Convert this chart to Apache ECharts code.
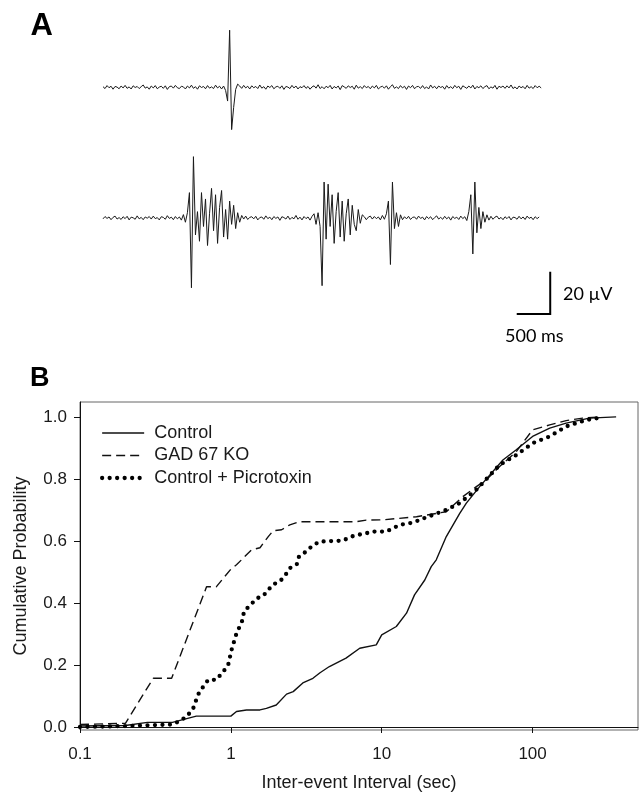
<!DOCTYPE html>
<html><head><meta charset="utf-8">
<script src="https://cdn.jsdelivr.net/npm/echarts@6/dist/echarts.min.js"></script>
<style>html,body{margin:0;padding:0;background:#fff}#c{width:639px;height:794px}</style>
</head><body><div id="c"></div>
<script>
// ---------- Panel A: extracellular traces (µV), one sample every SAMPLE_MS ----------
const SAMPLE_MS = 30;
const traceTop = [
 0.3,-0.6,0.8,-0.2,0.5,-0.9,0.4,0.1,-0.7,0.6,
 -0.3,0.9,-0.5,0.2,-0.8,0.7,-0.1,0.4,-0.6,0.3,
 1.1,-0.4,0.2,-0.9,0.6,-0.3,0.8,-0.7,0.1,0.5,
 -0.5,0.7,-1.0,0.3,0.6,-0.4,0.9,-0.2,-0.6,0.5,
 0.2,-0.8,0.6,-0.3,1.0,-0.5,0.3,-0.9,0.7,-0.1,
 0.4,-0.7,0.8,-0.4,0.2,-0.6,1.0,-0.3,0.5,-0.8,
 0.6,-1.5,-6.5,27,-20,-9.5,-1.0,1.5,0.6,-0.5,
 0.9,-0.3,0.5,-0.8,0.7,-0.2,0.4,-0.6,1.1,-0.4,
 0.3,-0.9,0.6,-0.1,0.8,-0.7,0.2,0.5,-0.5,0.7,
 -1.0,0.4,0.1,-0.6,0.9,-0.3,0.6,-0.8,0.3,-0.2,
 0.8,-0.5,0.4,-0.9,0.2,0.7,-0.4,1.2,-0.6,0.3,
 -0.7,0.5,-0.2,0.9,-0.8,0.4,-0.3,0.6,-1.1,0.8,
 0.2,-0.5,0.7,-0.1,0.5,-0.9,1.0,-0.4,0.3,-0.6,
 0.8,-0.2,0.4,-0.7,0.6,-0.3,0.9,-0.8,0.1,0.5,
 -0.4,0.7,-0.9,0.3,1.2,-0.5,0.2,-0.6,0.8,-0.3,
 0.5,-1.0,0.6,-0.2,0.9,-0.7,0.3,0.4,-0.5,0.8,
 -0.6,0.2,-0.8,1.1,-0.3,0.5,-0.7,0.6,-0.1,0.4,
 -0.9,0.8,-0.4,0.3,-0.6,0.9,-0.2,0.5,-1.0,0.7,
 0.1,-0.5,0.6,-0.3,1.0,-0.8,0.4,-0.2,0.7,-0.6,
 0.3,0.8,-0.7,0.2,-0.4,0.9,-0.9,0.5,-0.1,0.6,
 -0.5,0.7,-0.3,1.1,-0.6,0.2,-0.8,0.6,-0.2,0.4,
 -0.7,0.9,-0.4,0.3,-0.6,0.8,-0.2,0.5,-0.3
];
const traceBottom = [
 -0.4,0.7,-0.2,0.5,-0.8,0.3,0.9,-0.5,0.2,-0.7,
 0.6,-0.3,0.8,-0.9,0.4,0.1,-0.6,1.0,-0.4,0.3,
 -0.8,0.5,-0.1,0.7,-0.5,0.9,-0.3,0.2,-0.9,0.6,
 0.3,-0.6,1.1,-0.2,0.4,-0.8,0.7,-0.4,0.5,-1.0,
 1.6,-2.0,2.5,12,-33,29,-8,3,-11,12,
 -4,9,-13,2,14,-6,11,-12,5,13,
 -9,4,-10,8,-3,6,-5,2.5,-2,1.2,
 -0.5,0.9,-0.7,0.3,0.6,-0.4,0.8,-0.9,0.2,0.5,
 -0.6,1.0,-0.3,0.4,-0.8,0.7,-0.2,0.5,-1.1,0.6,
 0.2,-0.5,0.9,-0.7,0.3,-0.4,1.2,-0.6,0.4,-0.9,
 0.7,-0.3,0.5,-1.0,0.8,2,-3,2.5,-4,-32,
 17,-10,16,-4,11,-12,3,12,-9,8,
 -11,2,9,-8,6,-3,-6,4,-2.5,1.5,
 0.6,-0.8,0.4,0.9,-0.5,0.7,-0.3,0.5,-0.9,1.2,
 -0.6,2,8,-22,17,-5,2.5,-4,1.5,-0.8,
 0.6,-0.4,0.8,-0.7,0.3,0.5,-0.6,0.9,-0.2,0.4,
 -0.9,0.7,-0.3,0.6,-0.8,0.2,1.0,-0.5,0.3,-0.6,
 0.8,-0.4,0.5,-1.0,0.7,-0.2,0.4,-0.7,0.9,-0.3,
 0.6,-1.2,3,11,-17,17,-7,5,-5,3,
 -2,1.5,-1,0.8,-0.6,0.4,0.9,-0.5,0.3,-0.8,
 0.6,-0.3,0.7,-0.9,0.4,0.2,-0.6,0.8,-0.4,0.5,
 -0.7,0.9,-0.2,0.4,-0.8,0.6,-0.3,0.5
];
const scaleBarMs = 500;
const scaleBarUv = 20;
const scaleBarLabels = ['20 \u00b5V', '500 ms'];

// ---------- Panel B: cumulative probability of inter-event interval ----------
const seriesNames = ['Control', 'GAD 67 KO', 'Control + Picrotoxin'];
const controlX = [0.1,0.2,0.28,0.41,0.59,1.0,1.09,1.27,1.56,1.72,2.0,2.34,2.59,3.0,3.5,3.9,4.5,5.8,7.15,9.2,10.0,12.5,14.6,16.5,19.3,21.3,23.0,26.8,32.9,36.4,44.6,63.6,78,100,130,167,238,358];
const controlP = [0.003,0.005,0.015,0.015,0.035,0.035,0.05,0.055,0.055,0.06,0.071,0.106,0.114,0.142,0.157,0.175,0.195,0.222,0.254,0.265,0.297,0.324,0.367,0.426,0.474,0.517,0.539,0.614,0.689,0.722,0.775,0.861,0.894,0.937,0.964,0.98,0.996,1.0];
const gadX = [0.1,0.2,0.306,0.405,0.69,0.80,1.0,1.09,1.37,1.56,1.77,1.91,2.17,2.46,2.86,6.8,7.9,10.2,17,26.8,34.5,42.4,49.4,60.5,78,100,130,167,215,278];
const gadP = [0.008,0.012,0.157,0.157,0.452,0.452,0.509,0.523,0.571,0.578,0.614,0.633,0.636,0.652,0.662,0.662,0.667,0.668,0.678,0.694,0.743,0.775,0.797,0.84,0.888,0.958,0.974,0.988,0.996,1.0];
const picX = [0.1,0.2,0.41,0.448,0.509,0.563,0.607,0.66,0.708,0.80,0.89,0.96,1.01,1.09,1.15,1.2,1.22,1.35,1.49,1.64,1.77,1.91,2.11,2.28,2.46,2.75,2.83,3.14,3.48,3.89,5.54,6.14,6.8,7.72,8.55,10.7,11.9,13.2,16.1,18.8,26.8,32.9,42.4,60.5,78,100,130,167,227,285];
const picP = [0.0,0.003,0.008,0.017,0.033,0.06,0.105,0.132,0.152,0.152,0.178,0.2,0.248,0.302,0.326,0.347,0.372,0.394,0.415,0.423,0.442,0.46,0.469,0.487,0.512,0.526,0.55,0.565,0.585,0.598,0.601,0.612,0.619,0.623,0.63,0.63,0.641,0.652,0.659,0.672,0.7,0.722,0.765,0.845,0.877,0.915,0.937,0.969,0.99,0.998];
const yTicks = [0, 0.2, 0.4, 0.6, 0.8, 1.0];
const xAxisTitle = 'Inter-event Interval (sec)';
const yAxisTitle = 'Cumulative Probability';
const panelLabels = ['A', 'B'];

// ---------- layout (pixels / axis ranges) ----------
const PX_PER_MS = 0.067, PX_PER_UV = 2.115;
const A_T_MAX = 6800, A_V_MIN = -50, A_V_MAX = 40;
const A_W = A_T_MAX * PX_PER_MS, A_H = (A_V_MAX - A_V_MIN) * PX_PER_UV;
const A_BASE_TOP = 87.3, A_BASE_BOTTOM = 218;
const SCALE_T_END = 6675, SCALE_V_LOW = -45.4;

const toPairs = (arr) => arr.map((v, i) => [i * SAMPLE_MS, v]);
const zip = (xs, ys) => xs.map((x, i) => [x, ys[i]]);
const FONT = 'Liberation Sans, Arial, sans-serif';
const INK = '#111';
const CLEAR = 'rgba(0,0,0,0)';

const chart = echarts.init(document.getElementById('c'), null, {renderer: 'canvas'});
const hiddenX = (g) => ({type: 'value', gridIndex: g, min: 0, max: A_T_MAX, show: false});
const hiddenY = (g) => ({type: 'value', gridIndex: g, min: A_V_MIN, max: A_V_MAX, show: false});

chart.setOption({
  animation: false,
  backgroundColor: '#fff',
  grid: [
    {left: 103, top: A_BASE_TOP - A_V_MAX * PX_PER_UV, width: A_W, height: A_H, outerBoundsMode: 'none'},
    {left: 103, top: A_BASE_BOTTOM - A_V_MAX * PX_PER_UV, width: A_W, height: A_H, outerBoundsMode: 'none'},
    {left: 80, top: 402, right: 1, bottom: 64, show: true, borderColor: '#666', borderWidth: 1, backgroundColor: 'transparent', outerBoundsMode: 'none'}
  ],
  xAxis: [
    hiddenX(0), hiddenX(1),
    {
      type: 'log', logBase: 10, gridIndex: 2, min: 0.1, max: 500,
      axisLine: {show: true, lineStyle: {color: INK, width: 1}},
      axisTick: {show: true, inside: false, length: 6, lineStyle: {color: INK, width: 1}},
      minorTick: {show: false},
      splitLine: {show: false},
      axisLabel: {fontSize: 17, fontFamily: FONT, color: '#1a1a1a', margin: 16, showMaxLabel: false,
        formatter: (v) => (v < 1 ? v.toFixed(1) : String(Math.round(v)))},
      name: xAxisTitle, nameLocation: 'middle', nameGap: 44,
      nameTextStyle: {fontSize: 18, fontFamily: FONT, color: '#1a1a1a'}
    }
  ],
  yAxis: [
    hiddenY(0), hiddenY(1),
    {
      type: 'value', gridIndex: 2, min: -0.0097, max: 1.048,
      axisLine: {show: true, lineStyle: {color: INK, width: 1}},
      axisTick: {show: true, inside: false, length: 6, customValues: yTicks, lineStyle: {color: INK, width: 1}},
      splitLine: {show: false},
      axisLabel: {fontSize: 17, fontFamily: FONT, color: '#1a1a1a', margin: 13, customValues: yTicks,
        formatter: (v) => v.toFixed(1)},
      name: yAxisTitle, nameLocation: 'middle', nameGap: 50, nameRotate: 90,
      nameTextStyle: {fontSize: 18, fontFamily: FONT, color: '#1a1a1a'}
    }
  ],
  legend: {
    orient: 'vertical', left: 100, top: 424, padding: 0, itemWidth: 42, itemHeight: 14, itemGap: 4.5,
    selectedMode: false, data: seriesNames,
    itemStyle: {color: CLEAR, borderWidth: 0, opacity: 0},
    lineStyle: {width: 'inherit'},
    textStyle: {fontSize: 18, fontFamily: FONT, color: '#1a1a1a', padding: [0, 0, 0, 5]}
  },
  series: [
    {type: 'line', xAxisIndex: 0, yAxisIndex: 0, data: toPairs(traceTop), showSymbol: false, symbol: 'none',
      lineStyle: {color: '#1a1a1a', width: 1}, silent: true, clip: false},
    {type: 'line', xAxisIndex: 1, yAxisIndex: 1, data: toPairs(traceBottom), showSymbol: false, symbol: 'none',
      lineStyle: {color: '#1a1a1a', width: 1}, silent: true, clip: false},
    {type: 'line', xAxisIndex: 1, yAxisIndex: 1, symbol: 'none', silent: true, clip: false,
      data: [[SCALE_T_END, SCALE_V_LOW + scaleBarUv], [SCALE_T_END, SCALE_V_LOW], [SCALE_T_END - scaleBarMs, SCALE_V_LOW]],
      lineStyle: {color: '#000', width: 2, join: 'miter'}},
    {name: seriesNames[0], type: 'line', xAxisIndex: 2, yAxisIndex: 2, data: zip(controlX, controlP), symbol: 'none',
      itemStyle: {color: CLEAR}, lineStyle: {color: INK, width: 1.4}, z: 3},
    {name: seriesNames[1], type: 'line', xAxisIndex: 2, yAxisIndex: 2, data: zip(gadX, gadP), symbol: 'none',
      itemStyle: {color: CLEAR}, lineStyle: {color: INK, width: 1.4, type: [9, 5]}, z: 3},
    {name: seriesNames[2], type: 'line', xAxisIndex: 2, yAxisIndex: 2, data: zip(picX, picP), symbol: 'none',
      itemStyle: {color: CLEAR}, lineStyle: {color: '#000', width: 4.3, type: [0, 7.5], cap: 'round'}, z: 4}
  ],
  graphic: [
    {type: 'text', x: 30.5, y: 26.7, style: {text: panelLabels[0], fontSize: 31, fontWeight: 'bold', fontFamily: FONT, fill: '#000', align: 'left', verticalAlign: 'middle'}},
    {type: 'text', x: 30, y: 379, style: {text: panelLabels[1], fontSize: 27, fontWeight: 'bold', fontFamily: FONT, fill: '#000', align: 'left', verticalAlign: 'middle'}},
    {type: 'text', x: 563, y: 294, style: {text: scaleBarLabels[0], fontSize: 18, fontFamily: 'Lato, Open Sans, sans-serif', fill: '#000', align: 'left', verticalAlign: 'middle'}},
    {type: 'text', x: 505, y: 336.5, style: {text: scaleBarLabels[1], fontSize: 18, fontFamily: 'Lato, Open Sans, sans-serif', fill: '#000', align: 'left', verticalAlign: 'middle'}}
  ]
});
</script></body></html>
